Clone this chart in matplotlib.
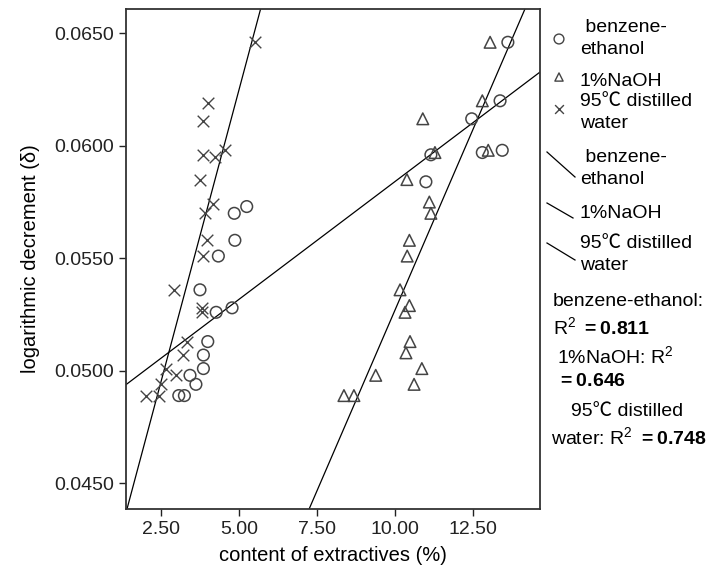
import numpy as np
import matplotlib
matplotlib.use('Agg')
import matplotlib.pyplot as plt

plt.rcParams['font.family'] = ['Liberation Sans', 'Noto Sans CJK SC', 'DejaVu Sans']
plt.rcParams['mathtext.fontset'] = 'custom'
plt.rcParams['mathtext.rm'] = 'Liberation Sans'
plt.rcParams['mathtext.bf'] = 'Liberation Sans:bold'

# benzene-ethanol (circles)
benz_x = [13.63, 13.38, 12.47, 12.81, 13.45, 11.16, 11.00, 5.25, 4.85, 4.87,
          4.34, 3.75, 4.27, 4.78, 4.00, 3.86, 3.86, 3.43, 3.62, 3.07, 3.25]
benz_y = [0.0646, 0.0620, 0.0612, 0.0597, 0.0598, 0.0596, 0.0584, 0.0573, 0.0570, 0.0558,
          0.0551, 0.0536, 0.0526, 0.0528, 0.0513, 0.0507, 0.0501, 0.0498, 0.0494, 0.0489, 0.0489]

# 1%NaOH (triangles)
naoh_x = [13.06, 12.81, 10.90, 13.00, 11.29, 10.39, 11.11, 11.16, 10.47, 10.40,
          10.17, 10.47, 10.33, 10.49, 10.36, 10.87, 10.62, 9.39, 8.37, 8.69]
naoh_y = [0.0646, 0.0620, 0.0612, 0.0598, 0.0597, 0.0585, 0.0575, 0.0570, 0.0558, 0.0551,
          0.0536, 0.0529, 0.0526, 0.0513, 0.0508, 0.0501, 0.0494, 0.0498, 0.0489, 0.0489]

# 95C distilled water (crosses)
water_x = [5.52, 4.00, 3.84, 3.84, 4.24, 4.54, 3.75, 4.18, 3.91, 3.98,
           3.86, 2.93, 3.82, 3.82, 3.32, 3.20, 2.66, 2.98, 2.50, 2.02, 2.45]
water_y = [0.0646, 0.0619, 0.0611, 0.0596, 0.0595, 0.0598, 0.0585, 0.0574, 0.0570, 0.0558,
           0.0551, 0.0536, 0.0528, 0.0526, 0.0513, 0.0507, 0.0501, 0.0498, 0.0494, 0.0489, 0.0489]

xticks = [2.5, 5.0, 7.5, 10.0, 12.5]
yticks = [0.045, 0.050, 0.055, 0.060, 0.065]

fig = plt.figure(figsize=(7.25, 5.79), dpi=100)
ax = fig.add_axes([0.1734, 0.1209, 0.5718, 0.8636])
xlim = (1.367, 14.67)
ylim = (0.04386, 0.06608)

mc = '#444444'
ms = 70
ax.scatter(benz_x, benz_y, s=ms, marker='o', facecolors='none', edgecolors=mc, linewidths=1.1, zorder=3)
ax.scatter(naoh_x, naoh_y, s=ms, marker='^', facecolors='none', edgecolors=mc, linewidths=1.1, zorder=3)
ax.scatter(water_x, water_y, s=ms, marker='x', color=mc, linewidths=1.0, zorder=3)

# fit lines
xx = np.array(xlim)
for xs, ys in [(benz_x, benz_y), (naoh_x, naoh_y), (water_x, water_y)]:
    k, b = np.polyfit(xs, ys, 1)
    ax.plot(xx, k * xx + b, color='black', lw=0.9, zorder=2)

ax.set_xlim(*xlim)
ax.set_ylim(*ylim)
ax.set_xticks(xticks)
ax.set_yticks(yticks)
ax.set_xticklabels(['%.2f' % v for v in xticks])
ax.set_yticklabels(['%.4f' % v for v in yticks])
ax.tick_params(direction='out', length=5, width=1, labelsize=14, colors='#222222')
for s in ax.spines.values():
    s.set_color('#333333')
    s.set_linewidth(1.3)
ax.set_xlabel('content of extractives (%)', fontsize=14.5, labelpad=6)
ax.set_ylabel('logarithmic decrement (δ)', fontsize=14.5, labelpad=10)

# legend / notes drawn in pixel space
lg = fig.add_axes([0, 0, 1, 1])
lg.set_xlim(0, 725)
lg.set_ylim(579, 0)
lg.axis('off')
lg.patch.set_alpha(0)
fs = 14
lg.scatter([559], [39], s=50, marker='o', facecolors='none', edgecolors=mc, linewidths=1.0)
lg.scatter([559], [77], s=35, marker='^', facecolors='none', edgecolors=mc, linewidths=1.0)
lg.scatter([559], [109], s=40, marker='x', color=mc, linewidths=1.0)
lg.text(580, 28, ' benzene-', fontsize=fs, va='center')
lg.text(580, 50, 'ethanol', fontsize=fs, va='center')
lg.text(580, 82, '1%NaOH', fontsize=fs, va='center')
lg.text(580, 102, '95℃ distilled', fontsize=fs, va='center')
lg.text(580, 123, 'water', fontsize=fs, va='center')
lg.plot([547, 575], [152, 177], color='black', lw=0.9)
lg.plot([547, 573], [203, 218], color='black', lw=0.9)
lg.plot([547, 575], [243, 260], color='black', lw=0.9)
lg.text(580, 157, ' benzene-', fontsize=fs, va='center')
lg.text(580, 180, 'ethanol', fontsize=fs, va='center')
lg.text(580, 213, '1%NaOH', fontsize=fs, va='center')
lg.text(580, 243, '95℃ distilled', fontsize=fs, va='center')
lg.text(580, 265, 'water', fontsize=fs, va='center')

lg.text(553, 302, 'benzene-ethanol:', fontsize=fs, va='center')
lg.text(553, 328, r'R$^2$ $\mathbf{{=}0.811}$', fontsize=fs, va='center')
lg.text(557, 357, r'1%NaOH: R$^2$', fontsize=fs, va='center')
lg.text(557, 382, r'$\mathbf{{=}0.646}$', fontsize=fs, va='center')
lg.text(571, 412, '95℃ distilled', fontsize=fs, va='center')
lg.text(551, 438, r'water: R$^2$ $\mathbf{{=}0.748}$', fontsize=fs, va='center')

fig.savefig('out.png', dpi=100)
